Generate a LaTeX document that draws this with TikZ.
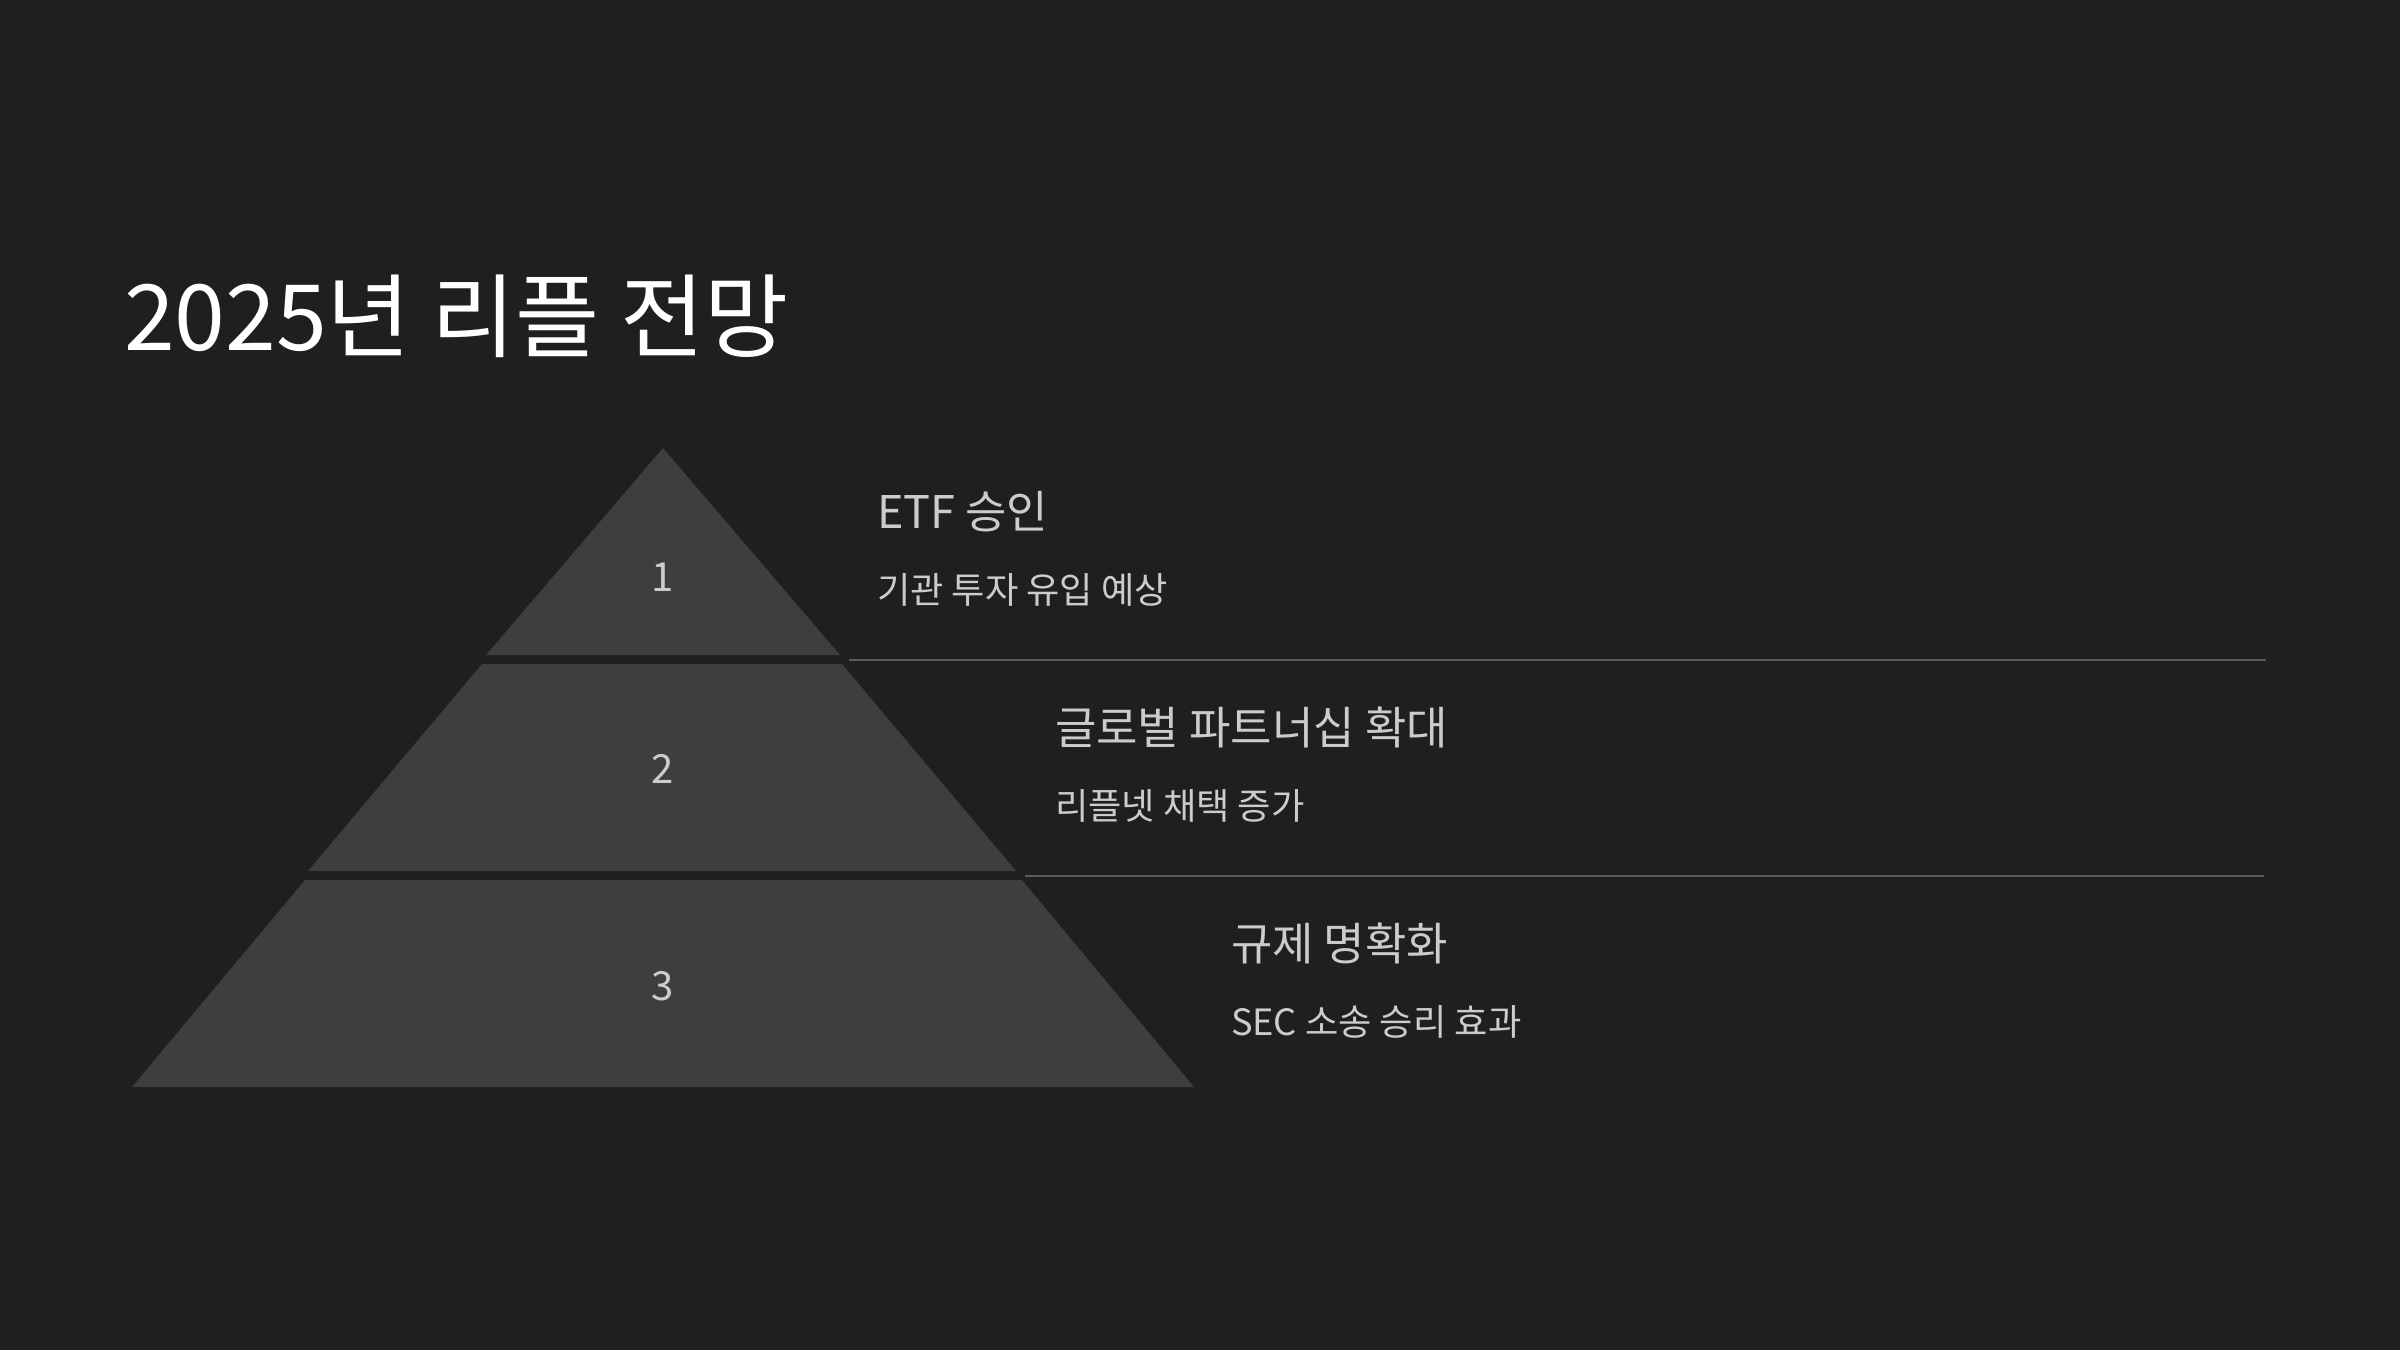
\documentclass[tikz,border=0pt]{standalone}
\usepackage{fontspec}
\newfontfamily\krfont{Noto Sans CJK KR}
\usepackage{tikz}
\usetikzlibrary{positioning}
\definecolor{slidebg}{RGB}{31,31,31}
\definecolor{tierfill}{RGB}{62,62,62}
\definecolor{rulegray}{RGB}{90,90,90}
\definecolor{textgray}{RGB}{204,204,204}

\begin{document}
\begin{tikzpicture}[
  x=0.01cm, y=-0.01cm,
  inner sep=0pt, outer sep=0pt,
  heading/.style={anchor=base west,text=white,font=\krfont\fontsize{26pt}{31pt}\selectfont},
  stage/.style={anchor=base west,text=textgray,font=\krfont\fontsize{12.8pt}{15pt}\selectfont},
  note/.style={anchor=base west,text=textgray,font=\krfont\fontsize{10.3pt}{12pt}\selectfont},
  num/.style={anchor=base,text=textgray,font=\krfont\fontsize{11.4pt}{14pt}\selectfont},
  tier/.style={fill=tierfill},
  sep/.style={draw=rulegray,line width=0.6pt},
]
% slide background
\fill[slidebg] (0,0) rectangle (2400,1350);
\useasboundingbox (0,0) rectangle (2400,1350);

\node[heading] (title) at (124,350) {2025년 리플 전망};

% pyramid tiers
\fill[tier] (663,448) -- (840,655) -- (486,655) -- cycle;
\fill[tier] (482,664) -- (842,664) -- (1016,871) -- (308,871) -- cycle;
\fill[tier] (305,880) -- (1022,880) -- (1194,1087) -- (132,1087) -- cycle;

\node[num] (num1) at (663,591) {1};
\node[num] (num2) at (663,783) {2};
\node[num] (num3) at (663,1000) {3};

% stage texts
\node[stage] (etf) at (877,528) {ETF 승인};
\node[note] (etfnote) at ([yshift=-0.75cm]etf.base west) {기관 투자 유입 예상};
\node[stage] (partner) at (1055,744) {글로벌 파트너십 확대};
\node[note] (partnernote) at ([yshift=-0.75cm]partner.base west) {리플넷 채택 증가};
\node[stage] (reg) at (1231,960) {규제 명확화};
\node[note] (regnote) at ([yshift=-0.75cm]reg.base west) {SEC 소송 승리 효과};

% separators
\coordinate (sepA) at (849,660);
\coordinate (sepAend) at (2266,660);
\coordinate (sepB) at (1025,876);
\coordinate (sepBend) at (2264,876);
\draw[sep] (sepA) -- (sepAend);
\draw[sep] (sepB) -- (sepBend);
\end{tikzpicture}
\end{document}
